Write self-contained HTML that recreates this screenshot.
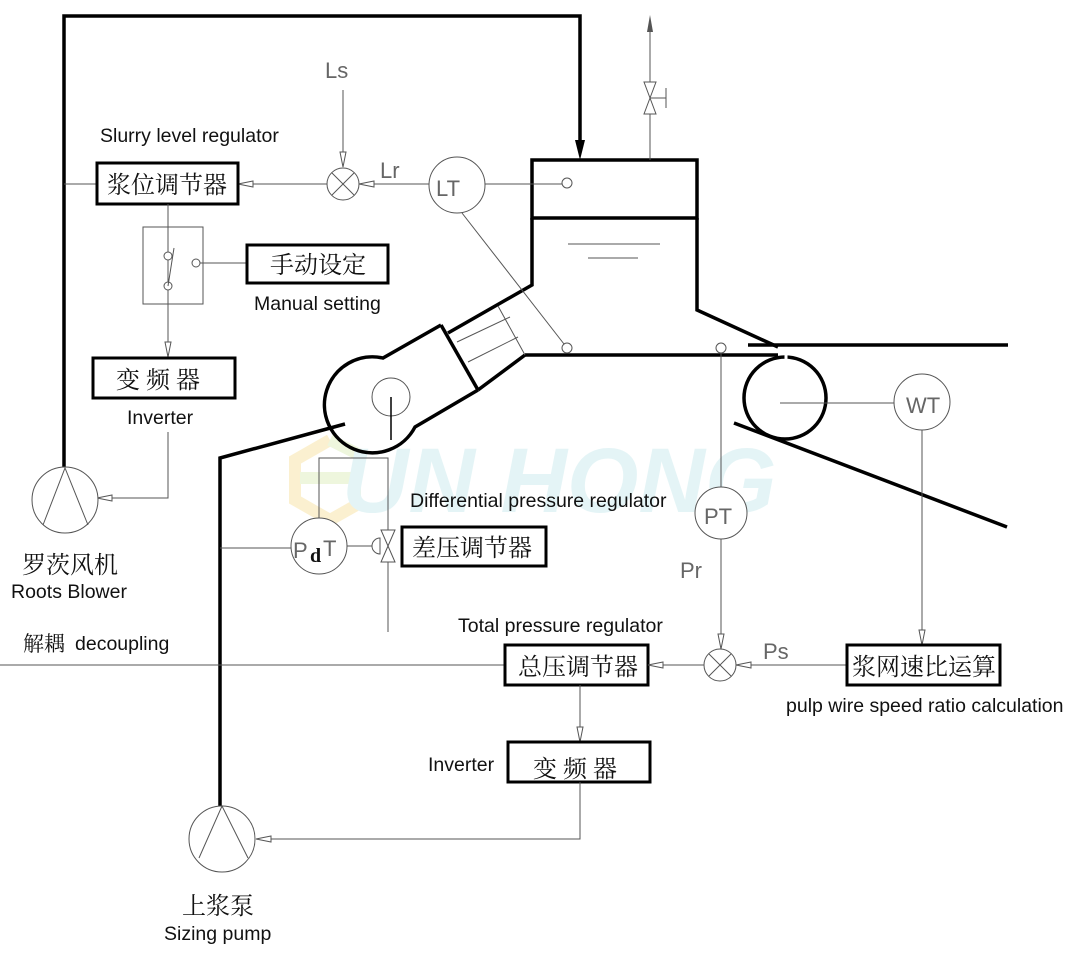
<!DOCTYPE html>
<html><head><meta charset="utf-8"><style>
html,body{margin:0;padding:0;background:#fff}
svg{display:block}
.t{stroke:#000;stroke-width:3.5;fill:none}
.n{stroke:#555;stroke-width:1;fill:none}
.c{stroke:#555;stroke-width:1;fill:#fff}
.b{stroke:#000;stroke-width:3;fill:#fff}
.zh{font-family:"Liberation Serif","Noto Serif CJK SC","Noto Sans CJK SC",serif;font-size:24px;fill:#111}
.en{font-family:"Liberation Sans",sans-serif;font-size:19.5px;fill:#111}
.lb{font-family:"Liberation Sans",sans-serif;font-size:22px;fill:#666;font-weight:300}
</style></head><body>
<svg width="1083" height="955" viewBox="0 0 1083 955" xmlns="http://www.w3.org/2000/svg">
<!-- watermark -->
<g opacity="0.35">
<path d="M330 440 L295 460 L295 500 L330 520 L360 503" stroke="#f5d67a" stroke-width="12" fill="none"/>
<path d="M360 455 L330 440 M300 478 L355 478 L355 500" stroke="#cfe6a0" stroke-width="12" fill="none"/>
<text x="342" y="512" font-family="Liberation Sans,sans-serif" font-size="92" font-style="italic" font-weight="bold" fill="#b4e2e6">UN HONG</text>
</g>
<!-- thick air line -->
<polyline class="t" points="64,470 64,16 580,16 580,150"/>
<polygon points="575,140 585,140 580,160" fill="#000"/>
<!-- tank -->
<rect x="532" y="160" width="165" height="58" class="t"/>
<polyline class="t" points="532,218 532,285 448,333"/>
<polyline class="t" points="697,218 697,310 778,347"/>
<line class="t" x1="525" y1="355" x2="778" y2="355"/>
<line class="t" x1="748" y1="345" x2="1008" y2="345"/>
<line x1="568" y1="244" x2="660" y2="244" stroke="#777" stroke-width="1.2"/>
<line x1="588" y1="258" x2="638" y2="258" stroke="#777" stroke-width="1.2"/>
<!-- nozzle -->
<line class="t" x1="525" y1="355" x2="478" y2="390"/>
<line class="n" x1="457" y1="342" x2="510" y2="317"/>
<line class="n" x1="468" y1="362" x2="518" y2="337"/>
<line class="n" x1="498" y1="306" x2="525" y2="355"/>
<polyline class="t" points="441,325 478,390"/>
<path class="t" d="M441,325 L383,358 A48,48 0 1 0 415,427 L478,390"/>
<circle cx="391" cy="397" r="19" class="n"/>
<line x1="391" y1="397" x2="391" y2="440" stroke="#000" stroke-width="1.5"/>
<polyline class="t" points="345,424 220,458 220,806"/>
<!-- roll -->
<circle cx="785" cy="398" r="41" class="t"/>
<line x1="786" y1="355" x2="786" y2="362" stroke="#fff" stroke-width="3"/>
<line class="t" x1="734" y1="423" x2="1007" y2="527"/>
<line class="n" x1="780" y1="403" x2="894" y2="403"/>
<circle cx="922" cy="402" r="28" class="c"/><text x="906" y="413" class="lb">WT</text>
<!-- top valve -->
<line class="n" x1="650" y1="160" x2="650" y2="25"/>
<polygon points="647,32 653,32 650,15" fill="#555"/>
<polygon points="644,82 656,82 650,98 644,114 656,114 650,98" class="c"/>
<line class="n" x1="650" y1="98" x2="666" y2="98"/><line class="n" x1="666" y1="88" x2="666" y2="108"/>
<!-- LT -->
<circle cx="457" cy="185" r="28" class="c"/><text x="436" y="196" class="lb">LT</text>
<line class="n" x1="485" y1="184" x2="562" y2="184"/>
<circle cx="567" cy="183" r="5" class="c"/>
<line class="n" x1="462" y1="213" x2="564" y2="344"/>
<circle cx="567" cy="348" r="5" class="c"/>
<circle cx="721" cy="348" r="5" class="c"/>
<line class="n" x1="721" y1="353" x2="721" y2="487"/>
<circle cx="721" cy="513" r="26" class="c"/><text x="704" y="524" class="lb">PT</text>
<!-- Ls / Lr junction -->
<text x="325" y="78" class="lb">Ls</text>
<line class="n" x1="343" y1="90" x2="343" y2="167"/>
<polygon points="340,152 346,152 343,167" class="c"/>
<line class="n" x1="359" y1="184" x2="429" y2="184"/>
<polygon points="359,184 374,181 374,187" class="c"/>
<text x="380" y="178" class="lb">Lr</text>
<circle cx="343" cy="184" r="16" class="c"/>
<line class="n" x1="332" y1="173" x2="354" y2="195"/><line class="n" x1="354" y1="173" x2="332" y2="195"/>
<line class="n" x1="238" y1="184" x2="327" y2="184"/>
<polygon points="238,184 253,181 253,187" class="c"/>
<line class="n" x1="64" y1="184" x2="97" y2="184"/>
<text x="100" y="142" class="en">Slurry level regulator</text>
<rect x="97" y="163" width="141" height="41" class="b"/>
<text x="107" y="193" class="zh">浆位调节器</text>
<!-- switch -->
<line class="n" x1="168" y1="204" x2="168" y2="357"/>
<rect x="143" y="227" width="60" height="77" class="n"/>
<circle cx="168" cy="256" r="4" class="c"/><circle cx="168" cy="286" r="4" class="c"/>
<line class="n" x1="168" y1="286" x2="174" y2="248"/>
<circle cx="196" cy="263" r="4" class="c"/>
<line class="n" x1="200" y1="263" x2="247" y2="263"/>
<rect x="247" y="245" width="141" height="38" class="b"/>
<text x="270" y="273" class="zh">手动设定</text>
<text x="254" y="310" class="en">Manual setting</text>
<polygon points="165,342 171,342 168,357" class="c"/>
<rect x="93" y="358" width="142" height="40" class="b"/>
<text x="116" y="388" class="zh">变 频 器</text>
<text x="127" y="424" class="en">Inverter</text>
<polyline class="n" points="168,432 168,498 97,498"/>
<polygon points="97,498 112,495 112,501" class="c"/>
<!-- blower -->
<circle cx="65" cy="500" r="33" class="c"/>
<polyline class="n" points="43,525 65,468 88,525"/>
<text x="22" y="573" class="zh">罗茨风机</text>
<text x="11" y="598" class="en">Roots Blower</text>
<!-- PdT -->
<line class="n" x1="220" y1="548" x2="291" y2="548"/>
<circle cx="319" cy="546" r="28" class="c"/>
<text x="293" y="558" class="lb">P</text><text x="310" y="562" class="zh" style="font-weight:bold;font-size:20px">d</text><text x="323" y="556" class="lb">T</text>
<polyline class="n" points="319,518 319,458 388,458 388,632"/>
<line class="n" x1="347" y1="546" x2="373" y2="546"/>
<path d="M380,538 A8,8 0 0 0 380,554 Z" class="c"/>
<polygon points="381,530 395,530 388,546 381,562 395,562 388,546" class="c"/>
<text x="410" y="507" class="en">Differential pressure regulator</text>
<rect x="402" y="527" width="144" height="39" class="b"/>
<text x="412" y="556" class="zh">差压调节器</text>
<!-- total pressure -->
<text x="23" y="651" class="zh" style="font-size:21px">解耦</text><text x="75" y="650" class="en">decoupling</text>
<line class="n" x1="0" y1="665" x2="505" y2="665"/>
<text x="458" y="632" class="en">Total pressure regulator</text>
<rect x="505" y="645" width="143" height="40" class="b"/>
<text x="518" y="675" class="zh">总压调节器</text>
<text x="680" y="578" class="lb">Pr</text>
<line class="n" x1="721" y1="539" x2="721" y2="649"/>
<polygon points="718,634 724,634 721,649" class="c"/>
<circle cx="720" cy="665" r="16" class="c"/>
<line class="n" x1="709" y1="654" x2="731" y2="676"/><line class="n" x1="731" y1="654" x2="709" y2="676"/>
<line class="n" x1="648" y1="665" x2="704" y2="665"/>
<polygon points="648,665 663,662 663,668" class="c"/>
<line class="n" x1="736" y1="665" x2="847" y2="665"/>
<polygon points="736,665 751,662 751,668" class="c"/>
<text x="763" y="659" class="lb">Ps</text>
<line class="n" x1="922" y1="430" x2="922" y2="645"/>
<polygon points="919,630 925,630 922,645" class="c"/>
<rect x="847" y="645" width="153" height="40" class="b"/>
<text x="852" y="675" class="zh">浆网速比运算</text>
<text x="786" y="712" class="en">pulp wire speed ratio calculation</text>
<line class="n" x1="580" y1="685" x2="580" y2="742"/>
<polygon points="577,727 583,727 580,742" class="c"/>
<rect x="508" y="742" width="142" height="40" class="b"/>
<text x="533" y="777" class="zh">变 频 器</text>
<text x="428" y="771" class="en">Inverter</text>
<polyline class="n" points="580,782 580,839 256,839"/>
<polygon points="256,839 271,836 271,842" class="c"/>
<!-- pump -->
<circle cx="222" cy="839" r="33" class="c"/>
<polyline class="n" points="199,858 222,806 248,858"/>
<text x="182" y="914" class="zh">上浆泵</text>
<text x="164" y="940" class="en">Sizing pump</text>
</svg>
</body></html>
